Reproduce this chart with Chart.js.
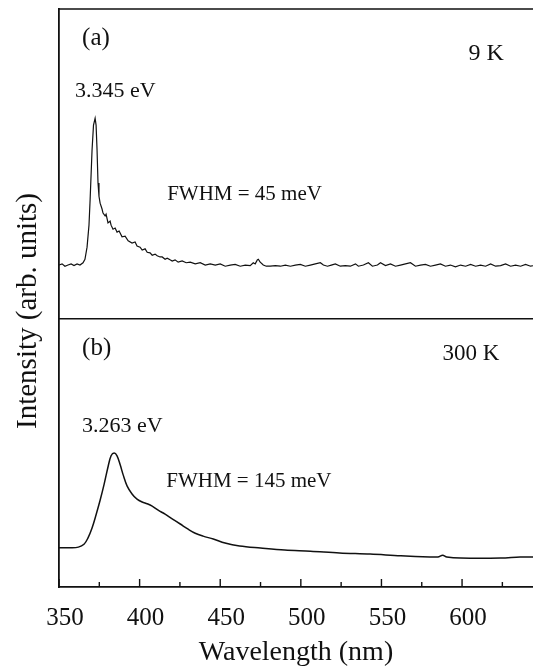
<!DOCTYPE html>
<html>
<head>
<meta charset="utf-8">
<script src="https://cdn.jsdelivr.net/npm/chart.js@4.4.0/dist/chart.umd.min.js"></script>
<style>
  body { margin: 0; background: #fff; }
  #wrap { width: 533px; height: 669px; }
</style>
</head>
<body>
<div id="wrap"><canvas id="plChart" width="533" height="669"></canvas></div>
<script>
// Wavelength axis
const xMin = 350;
const xMax = 644;
const xTicks = [350, 375, 400, 425, 450, 475, 500, 525, 550, 575, 600, 625];

// Panel (a) 9 K spectrum (intensity on shared arb. scale, 0 = bottom axis, 100 = top frame)
const wl9K = [350.0, 351.9, 353.7, 355.6, 357.5, 359.3, 361.2, 363.0, 364.9, 366.1, 367.4, 368.6, 369.3, 369.9, 370.5, 371.4, 372.4, 373.0, 373.6, 374.2, 374.8, 375.5, 376.7, 377.3, 378.6, 379.2, 380.4, 381.7, 382.3, 383.5, 384.8, 386.0, 387.3, 389.1, 391.0, 392.9, 395.3, 397.2, 398.4, 400.3, 401.6, 403.4, 404.7, 406.5, 407.8, 409.6, 410.9, 412.7, 414.0, 415.8, 417.1, 418.9, 420.2, 422.0, 423.9, 426.4, 428.9, 431.4, 434.5, 437.6, 440.7, 443.8, 446.9, 450.0, 453.1, 456.2, 459.3, 462.4, 465.5, 468.6, 470.5, 471.7, 473.0, 473.6, 474.8, 476.7, 478.6, 481.1, 484.2, 487.3, 490.4, 493.5, 496.6, 499.7, 502.8, 505.9, 509.0, 512.1, 514.0, 516.5, 518.9, 521.4, 524.5, 527.6, 530.7, 533.9, 535.7, 538.8, 541.9, 544.4, 547.5, 549.4, 552.5, 555.6, 558.7, 561.8, 564.9, 568.0, 571.1, 574.2, 577.3, 580.4, 583.5, 586.6, 589.7, 592.8, 595.9, 599.1, 602.2, 605.3, 608.4, 611.5, 614.6, 617.7, 620.8, 623.9, 627.0, 630.1, 633.2, 636.3, 639.4, 642.5, 644.4];
const int9K = [55.7, 55.9, 55.5, 55.7, 55.9, 55.6, 55.9, 55.7, 56.1, 56.7, 58.8, 62.6, 67.0, 71.3, 75.6, 79.9, 81.1, 79.9, 75.6, 69.9, 67.6, 66.4, 65.4, 64.7, 64.2, 64.5, 63.0, 63.3, 62.6, 61.9, 62.1, 61.4, 61.6, 60.6, 60.7, 59.9, 59.5, 59.7, 59.0, 58.8, 58.3, 58.5, 57.9, 57.8, 57.4, 57.6, 57.3, 57.1, 57.1, 56.7, 56.9, 56.6, 56.4, 56.6, 56.2, 56.4, 56.1, 56.2, 55.9, 56.1, 55.7, 55.9, 55.7, 55.9, 55.5, 55.7, 55.8, 55.5, 55.7, 55.6, 56.1, 55.9, 56.6, 56.7, 56.2, 55.7, 55.5, 55.5, 55.6, 55.5, 55.7, 55.5, 55.7, 55.8, 55.5, 55.7, 55.9, 56.1, 55.7, 55.5, 55.7, 55.9, 55.5, 55.6, 55.5, 55.9, 55.5, 55.7, 56.1, 55.5, 55.7, 56.1, 55.6, 55.9, 55.5, 55.7, 55.9, 56.1, 55.5, 55.7, 55.8, 55.5, 55.7, 55.9, 55.5, 55.7, 55.4, 55.7, 55.5, 55.8, 55.5, 55.7, 55.5, 55.9, 55.5, 55.6, 55.9, 55.5, 55.7, 55.5, 55.8, 55.5, 55.6];

// Panel (b) 300 K spectrum
const wl300K = [350, 357, 362, 365.5, 368, 370.5, 373, 375.5, 378, 380.5, 382.3, 384.2, 386, 388, 389.8, 392.2, 395.3, 398.4, 401.6, 404.7, 407.8, 411.5, 415.8, 420.2, 425.2, 430.1, 434.5, 439.4, 445.7, 453, 462, 475, 490, 506, 524, 543, 562, 580, 585, 588, 590.5, 599, 624, 636, 644];
const int300K = [6.8, 6.8, 6.9, 7.4, 8.5, 10.2, 12.5, 15.0, 17.8, 20.9, 22.7, 23.2, 22.7, 21.1, 19.4, 17.5, 16.1, 15.2, 14.7, 14.4, 14.0, 13.3, 12.6, 11.8, 10.9, 10.0, 9.3, 8.8, 8.3, 7.6, 7.1, 6.75, 6.4, 6.2, 5.9, 5.7, 5.4, 5.2, 5.2, 5.5, 5.2, 5.0, 5.0, 5.2, 5.2];

// boundary between the two panels, on the shared intensity scale
const panelSplit = 46.4;

// text in the panels
const noteText = ["(a)", "9 K", "3.345 eV", "FWHM = 45 meV", "(b)", "300 K", "3.263 eV", "FWHM = 145 meV"];
const noteX = [364.3, 604.0, 359.9, 417.1, 364.3, 587.9, 364.3, 416.5];
const noteY = [93.8, 91.2, 84.8, 67.0, 40.1, 39.3, 26.8, 17.3];
const noteSize = [25, 24, 22, 21, 25, 23, 22, 21];

const serif = "'Liberation Serif', 'Times New Roman', serif";

function toPoints(xs, ys) {
  return xs.map((x, i) => ({ x: x, y: ys[i] }));
}

// **Frame, inward ticks and panel text**
const framePlugin = {
  id: "frame",
  afterDraw(chart) {
    const ctx = chart.ctx;
    const area = chart.chartArea;
    const xs = chart.scales.x;
    const ys = chart.scales.y;
    ctx.save();
    ctx.strokeStyle = "#111";
    ctx.lineWidth = 1.6;
    ctx.beginPath();
    ctx.moveTo(area.left, area.top);
    ctx.lineTo(area.right, area.top);
    let yDiv = ys.getPixelForValue(panelSplit);
    ctx.moveTo(area.left, yDiv);
    ctx.lineTo(area.right, yDiv);
    ctx.stroke();

    // tick marks pointing into the plot
    ctx.lineWidth = 1.4;
    ctx.beginPath();
    xs.ticks.forEach(t => {
      let px = xs.getPixelForValue(t.value);
      let len = t.value % 50 === 0 ? 8 : 5;
      ctx.moveTo(px, area.bottom);
      ctx.lineTo(px, area.bottom - len);
    });
    ctx.stroke();

    // labels inside panels
    ctx.fillStyle = "#111";
    ctx.textAlign = "left";
    ctx.textBaseline = "alphabetic";
    noteText.forEach((txt, i) => {
      ctx.font = noteSize[i] + "px " + serif;
      ctx.fillText(txt, xs.getPixelForValue(noteX[i]), ys.getPixelForValue(noteY[i]));
    });

    // y axis title
    ctx.font = "29px " + serif;
    ctx.textAlign = "center";
    ctx.translate(36, 311);
    ctx.rotate(-Math.PI / 2);
    ctx.fillText("Intensity (arb. units)", 0, 0);
    ctx.restore();
  }
};

const plChart = new Chart(document.getElementById("plChart").getContext("2d"), {
  type: "line",
  data: {
    datasets: [
      {
        label: "9 K",
        data: toPoints(wl9K, int9K),
        borderColor: "#111",
        borderWidth: 1.2,
        pointRadius: 0,
        tension: 0,
        fill: false
      },
      {
        label: "300 K",
        data: toPoints(wl300K, int300K),
        borderColor: "#111",
        borderWidth: 1.5,
        pointRadius: 0,
        tension: 0.35,
        fill: false
      }
    ]
  },
  options: {
    responsive: false,
    animation: false,
    events: [],
    layout: { padding: { top: 9, right: 0, left: 0, bottom: 0 } },
    plugins: {
      legend: { display: false },
      tooltip: { enabled: false }
    },
    scales: {
      x: {
        type: "linear",
        min: xMin,
        max: xMax,
        afterBuildTicks: scale => { scale.ticks = xTicks.map(v => ({ value: v })); },
        afterFit: scale => { scale.height = 82; },
        grid: { drawOnChartArea: false, drawTicks: false },
        border: { display: true, color: "#111", width: 1.8 },
        ticks: {
          autoSkip: false,
          maxRotation: 0,
          padding: 16,
          labelOffset: 6,
          color: "#111",
          font: { family: serif, size: 25 },
          callback: v => (v % 50 === 0 ? String(v) : "")
        },
        title: {
          display: true,
          text: "Wavelength (nm)",
          color: "#111",
          font: { family: serif, size: 28 },
          padding: { top: 0, bottom: 0 }
        }
      },
      y: {
        type: "linear",
        min: 0,
        max: 100,
        afterFit: scale => { scale.width = 59; },
        grid: { drawOnChartArea: false, drawTicks: false },
        border: { display: true, color: "#111", width: 1.8 },
        ticks: { display: false }
      }
    }
  },
  plugins: [framePlugin]
});
</script>
</body>
</html>
